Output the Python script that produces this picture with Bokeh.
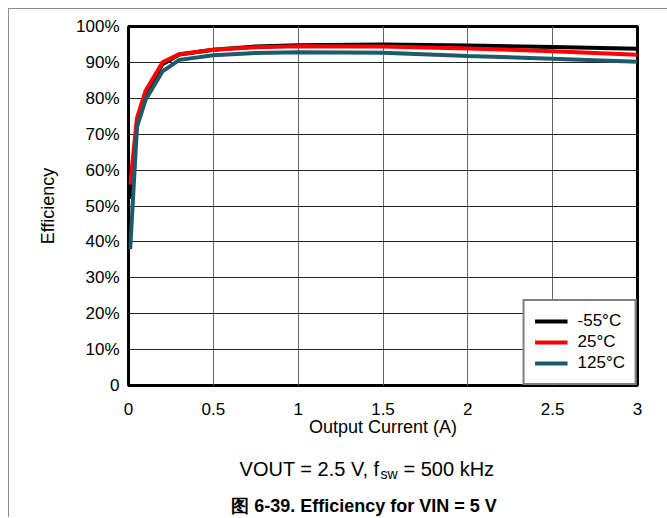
from bokeh.plotting import figure
from bokeh.models import FixedTicker, Range1d, Spacer
from bokeh.layouts import column, row
from bokeh.core.properties import value
from bokeh.embed import file_html
from bokeh.resources import INLINE

# ---- data ----
current_a = [0.01, 0.05, 0.1, 0.2, 0.3, 0.5, 0.75, 1.0, 1.5, 2.0, 2.5, 3.0]
eff_m55 = [52, 73, 81.0, 89.5, 92.2, 93.5, 94.4, 94.8, 95.0, 94.7, 94.3, 93.8]
eff_25 = [56, 74.5, 82.0, 90.0, 92.3, 93.5, 94.2, 94.5, 94.4, 93.9, 93.1, 92.1]
eff_125 = [38, 72, 79.5, 87.5, 90.7, 92.0, 92.6, 92.8, 92.7, 91.8, 91.0, 90.2]
series_names = ["-55°C", "25°C", "125°C"]
series_colors = ["#000000", "#FF0000", "#1B5A6A"]

x_ticks = [0, 0.5, 1, 1.5, 2, 2.5, 3]
x_tick_labels = ["0", "0.5", "1", "1.5", "2", "2.5", "3"]
y_ticks = [0, 10, 20, 30, 40, 50, 60, 70, 80, 90, 100]
y_tick_labels = ["0", "10%", "20%", "30%", "40%", "50%", "60%", "70%", "80%", "90%", "100%"]

x_title = "Output Current (A)"
y_title = "Efficiency"
cond_a = "VOUT = 2.5 V, f"
cond_sub = "sw"
cond_b = "= 500 kHz"
caption = "图 6-39. Efficiency for VIN = 5 V"

FONT = "Liberation Sans"
RULE = "#8c8c8c"

OX, OY = 9, 9
W = 667 - OX
H1, H2 = 436, 72
PL, PT, PR, PB = 128, 26, 637, 385          # plot frame, page px
FL, FT, FR, FB = PL - OX, PT - OY, PR - OX, PB - OY

p = figure(width=W, height=H1, output_backend="svg", toolbar_location=None,
           x_range=Range1d(0, 3), y_range=Range1d(0, 100),
           min_border_left=FL, min_border_right=W - FR,
           min_border_top=FT, min_border_bottom=H1 - FB)
p.background_fill_color = "white"
p.border_fill_color = "white"
p.outline_line_color = "black"
p.outline_line_width = 3

for ys, name, col in zip([eff_m55, eff_25, eff_125], series_names, series_colors):
    p.line(current_a, ys, line_color=col, line_width=4, legend_label=name)

for ax in (p.xaxis[0], p.yaxis[0]):
    ax.axis_line_color = None
    ax.major_tick_out = 0
    ax.major_tick_in = 0
    ax.minor_tick_out = 0
    ax.minor_tick_in = 0
    ax.major_label_text_font = FONT
    ax.major_label_text_font_size = "17px"
    ax.major_label_text_color = "black"
    ax.axis_label_text_font = FONT
    ax.axis_label_text_font_size = "18px"
    ax.axis_label_text_font_style = "normal"
    ax.axis_label_text_color = "black"

p.xaxis.ticker = FixedTicker(ticks=x_ticks)
p.xaxis.major_label_overrides = {t: l for t, l in zip(x_ticks, x_tick_labels)}
p.yaxis.ticker = FixedTicker(ticks=y_ticks)
p.yaxis.major_label_overrides = {t: l for t, l in zip(y_ticks, y_tick_labels)}
p.xaxis.axis_label = x_title
p.yaxis.axis_label = y_title
p.xaxis.major_label_standoff = 17
p.xaxis.axis_label_standoff = -1
p.yaxis.major_label_standoff = 9
p.yaxis.axis_label_standoff = 15

p.xgrid.grid_line_color = "#666666"
p.xgrid.grid_line_width = 1
p.ygrid.grid_line_color = "#222222"
p.ygrid.grid_line_width = 1

lg = p.legend[0]
lg.location = "bottom_right"
lg.margin = 0
lg.padding = 10
lg.spacing = 1
lg.glyph_width = 33
lg.glyph_height = 20
lg.label_height = 20
lg.label_width = 46
lg.label_standoff = 10
lg.label_text_font = FONT
lg.label_text_font_size = "17px"
lg.label_text_color = "black"
lg.border_line_color = "black"
lg.border_line_width = 2
lg.background_fill_alpha = 1.0

# ---- caption panel: its frame is aligned with the chart frame by the column layout,
# so its ranges are expressed directly in page pixels (y down) ----
Y2 = OY + H1
q = figure(width=W, height=H2, output_backend="svg", toolbar_location=None,
           x_axis_location=None, y_axis_location=None, title=None,
           x_range=Range1d(PL, PR), y_range=Range1d(Y2 + H2, Y2),
           min_border=0, min_border_left=0, min_border_right=0,
           min_border_top=0, min_border_bottom=0)
q.grid.visible = False
q.outline_line_color = None
q.background_fill_color = "white"
q.border_fill_color = "white"

q.text(x=[379], y=[468], text=[cond_a], text_align="right",
       text_baseline="alphabetic", text_font=value(FONT), text_font_size="20px",
       text_color="black")
q.text(x=[403], y=[468], text=[cond_b], text_align="left",
       text_baseline="alphabetic", text_font=value(FONT), text_font_size="20px",
       text_color="black")
q.text(x=[380], y=[473], text=[cond_sub], text_align="left",
       text_baseline="alphabetic", text_font=value(FONT), text_font_size="14px",
       text_color="black")
q.text(x=[363.5], y=[505], text=[caption], text_align="center",
       text_baseline="alphabetic", text_font=value(FONT), text_font_size="18px",
       text_font_style="bold", text_color="black")

top_rule = Spacer(width=667 - 8, height=1, styles={"background-color": RULE})
left_rule = Spacer(width=1, height=H1 + H2, styles={"background-color": RULE})
layout = column(
    Spacer(width=667, height=8),
    row(Spacer(width=8, height=H1 + H2 + 1),
        column(top_rule, row(left_rule, column(p, q)))),
)

open("out.html", "w").write(file_html(layout, INLINE))
